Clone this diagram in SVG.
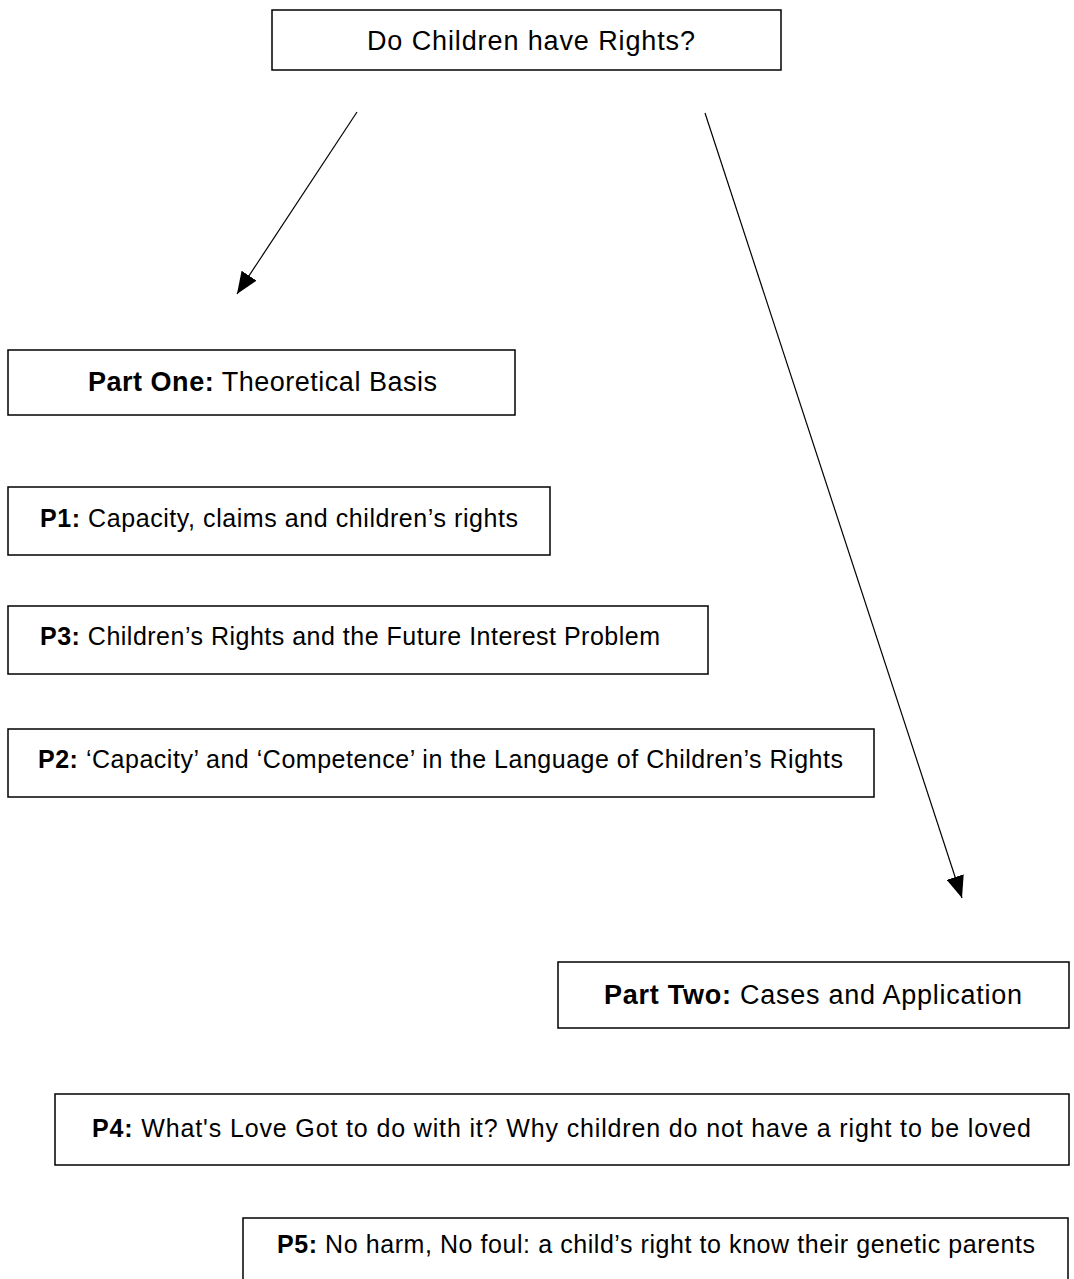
<svg xmlns="http://www.w3.org/2000/svg" width="1074" height="1279" viewBox="0 0 1074 1279">
<style>
.box{fill:#fff;stroke:#000;stroke-width:1.5}
.t{font-family:"Liberation Sans",Arial,sans-serif;font-size:25px;fill:#000}
.big{font-size:27px}
.b{font-weight:bold}
.c{stroke:#000;stroke-width:1.2;fill:none}
</style>
<defs>
<marker id="ah" markerUnits="userSpaceOnUse" viewBox="0 0 22 18" refX="22" refY="9" markerWidth="22" markerHeight="18" orient="auto">
<path d="M0,0 L22,9 L0,18 Z" fill="#000"/>
</marker>
</defs>
<rect width="1074" height="1279" fill="#fff"/>
<g id="connectors">
<line class="c" x1="357" y1="112" x2="237" y2="294" marker-end="url(#ah)"/>
<line class="c" x1="705" y1="113" x2="962" y2="898" marker-end="url(#ah)"/>
</g>
<g id="root">
<rect class="box" x="272" y="10" width="509" height="60"/>
<text class="t big" x="367" y="50" textLength="328">Do Children have Rights?</text>
</g>
<g id="part-one">
<rect class="box" x="8" y="350" width="507" height="65"/>
<text class="t big" x="88" y="391" textLength="349"><tspan class="b">Part One:</tspan> Theoretical Basis</text>
</g>
<g id="p1">
<rect class="box" x="8" y="487" width="542" height="68"/>
<text class="t" x="40" y="527" textLength="478"><tspan class="b">P1:</tspan> Capacity, claims and children’s rights</text>
</g>
<g id="p3">
<rect class="box" x="8" y="606" width="700" height="68"/>
<text class="t" x="40" y="645" textLength="620"><tspan class="b">P3:</tspan> Children’s Rights and the Future Interest Problem</text>
</g>
<g id="p2">
<rect class="box" x="8" y="729" width="866" height="68"/>
<text class="t" x="38" y="768" textLength="805"><tspan class="b">P2:</tspan> ‘Capacity’ and ‘Competence’ in the Language of Children’s Rights</text>
</g>
<g id="part-two">
<rect class="box" x="558" y="962" width="511" height="66"/>
<text class="t big" x="604" y="1004" textLength="418"><tspan class="b">Part Two:</tspan> Cases and Application</text>
</g>
<g id="p4">
<rect class="box" x="55" y="1094" width="1014" height="71"/>
<text class="t" x="92" y="1137" textLength="939"><tspan class="b">P4:</tspan> What's Love Got to do with it? Why children do not have a right to be loved</text>
</g>
<g id="p5">
<rect class="box" x="243" y="1218" width="825" height="70"/>
<text class="t" x="277" y="1253" textLength="758"><tspan class="b">P5:</tspan> No harm, No foul: a child’s right to know their genetic parents</text>
</g>
</svg>
